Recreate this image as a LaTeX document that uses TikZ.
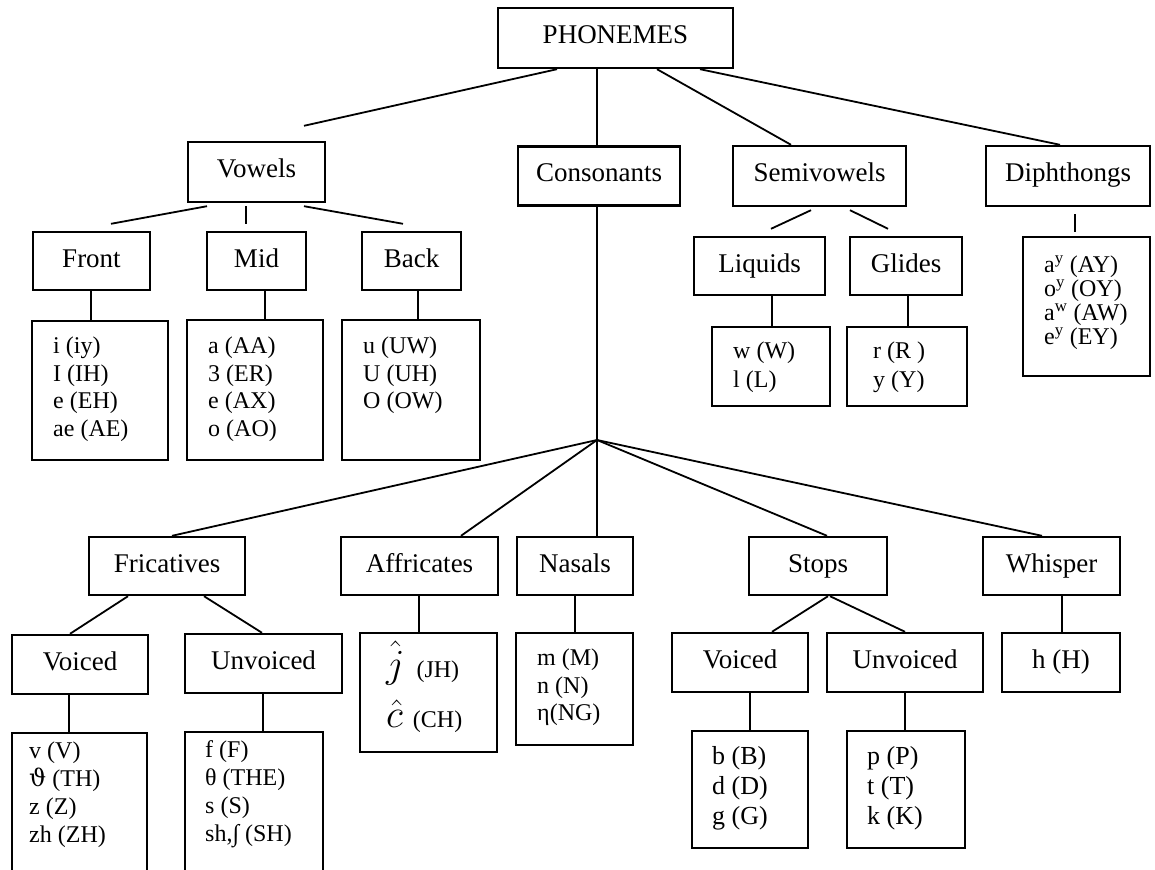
\documentclass[tikz,border=0pt]{standalone}
\usepackage{fontspec}
\setmainfont{Liberation Serif}
\newfontfamily\greekserif{DejaVu Serif}
\newcommand\leafsize[2]{\fontsize{#1}{#2}\selectfont}
\begin{document}
\begin{tikzpicture}[x=1pt,y=-1pt,
  box/.style={draw, line width=2.4pt, inner sep=0pt, text height=18pt, text depth=6pt,
              font=\leafsize{27}{30}},
  leaf/.style={draw, line width=2.4pt, inner sep=0pt},
  ltext/.style={anchor=west, inner sep=0pt, align=left, font=\leafsize{24}{27.5}},
  link/.style={line width=1.8pt}]
\useasboundingbox (0,0) rectangle (1155,869);
\fill[white] (0,0) rectangle (1155,869);
\clip (0,0) rectangle (1155,869);

% ---- top level ----
\node[box, minimum width=235pt, minimum height=60pt] (phon) at (615.5,38) {PHONEMES};

% ---- classes ----
\node[box, minimum width=137pt, minimum height=60pt] (vow)  at (256.5,172) {Vowels};
\node[box, minimum width=162pt, minimum height=59pt] (cons) at (599,176) {Consonants};
\node[box, minimum width=173pt, minimum height=60pt] (semi) at (819.5,176) {Semivowels};
\node[box, minimum width=164pt, minimum height=60pt] (diph) at (1068,176) {Diphthongs};

% ---- vowel and semivowel groups ----
\node[box, minimum width=117pt, minimum height=58pt] (front) at (91.5,261) {Front};
\node[box, minimum width=99pt,  minimum height=58pt] (mid)   at (256.5,261) {Mid};
\node[box, minimum width=99pt,  minimum height=58pt] (back)  at (411.5,261) {Back};
\node[box, minimum width=131pt, minimum height=58pt] (liq)   at (759.5,266) {Liquids};
\node[box, minimum width=112pt, minimum height=58pt] (gli)   at (906,266) {Glides};

% ---- vowel / semivowel / diphthong lists ----
\node[leaf, minimum width=136pt, minimum height=139pt] (frontl) at (100,390.5) {};
\node[leaf, minimum width=136pt, minimum height=140pt] (midl)   at (255,390) {};
\node[leaf, minimum width=138pt, minimum height=140pt] (backl)  at (411,390) {};
\node[leaf, minimum width=118pt, minimum height=79pt]  (liql)   at (771,366.5) {};
\node[leaf, minimum width=120pt, minimum height=79pt]  (glil)   at (907,366.5) {};
\node[leaf, minimum width=127pt, minimum height=139pt] (diphl)  at (1086.5,306.5) {};

\node[ltext] (frontt) at (53,389) {i (iy)\\I (IH)\\e (EH)\\ae (AE)};
\node[ltext] (midt)   at (208,389) {a (AA)\\3 (ER)\\e (AX)\\o (AO)};
\node[ltext] (backt)  at (363,375.5) {u (UW)\\U (UH)\\O (OW)};
\node[ltext, font=\leafsize{24}{29}] (liqt) at (733,367.5) {w (W)\\l (L)};
\node[ltext, font=\leafsize{24}{29}] (glit) at (873,367.5) {r (R )\\y (Y)};
\node[ltext, font=\leafsize{24}{24}] (diphtx) at (1044,303)
  {a\textsuperscript{y} (AY)\\o\textsuperscript{y} (OY)\\a\textsuperscript{w} (AW)\\e\textsuperscript{y} (EY)};

% ---- consonant branch point ----
\coordinate (hub) at (597,440);

% ---- consonant classes ----
\node[box, minimum width=156pt, minimum height=58pt] (fric)  at (167,566) {Fricatives};
\node[box, minimum width=157pt, minimum height=58pt] (affr)  at (419.5,566) {Affricates};
\node[box, minimum width=116pt, minimum height=58pt] (nas)   at (575,566) {Nasals};
\node[box, minimum width=138pt, minimum height=58pt] (stops) at (818,566) {Stops};
\node[box, minimum width=137pt, minimum height=58pt] (whis)  at (1051.5,566) {Whisper};

% ---- voicing ----
\node[box, minimum width=136pt, minimum height=59pt] (fv) at (80,664.5) {Voiced};
\node[box, minimum width=157pt, minimum height=59pt] (fu) at (263.5,663.5) {Unvoiced};
\node[box, minimum width=136pt, minimum height=59pt] (sv) at (740,662.5) {Voiced};
\node[box, minimum width=156pt, minimum height=59pt] (su) at (905,662.5) {Unvoiced};
\node[box, minimum width=118pt, minimum height=59pt] (hh) at (1061,662.5) {h (H)};

% ---- consonant lists ----
\node[leaf, minimum width=137pt, minimum height=119pt] (affrl) at (428.5,692.5) {};
\node[leaf, minimum width=117pt, minimum height=112pt] (nasl)  at (574.5,689) {};
\node[leaf, minimum width=135pt, minimum height=157pt] (fvl)   at (79.5,811.5) {};
\node[leaf, minimum width=138pt, minimum height=158pt] (ful)   at (254,811) {};
\node[leaf, minimum width=116pt, minimum height=117pt] (svl)   at (750,789.5) {};
\node[leaf, minimum width=118pt, minimum height=117pt] (suvl)  at (906,789.5) {};

\node[ltext, font=\leafsize{24}{28}] (fvt) at (29,794.5)
  {v (V)\\{\greekserif ϑ} (TH)\\z (Z)\\zh (ZH)};
\node[ltext, font=\leafsize{24}{28}] (fut) at (205,794.5)
  {f (F)\\θ (THE)\\s (S)\\sh,∫ (SH)};
\node[ltext, font=\leafsize{24}{48}] (affrt) at (386,687)
  {\scalebox{1.6}{$\hat{j}$}\hspace{12pt}(JH)\\[2pt]\scalebox{1.6}{$\hat{c}$}\hspace{10pt}(CH)};
\node[ltext] (nast) at (537,687.5) {m (M)\\n (N)\\η(NG)};
\node[ltext, font=\leafsize{26}{30}] (svt) at (712,788) {b (B)\\d (D)\\g (G)};
\node[ltext, font=\leafsize{26}{30}] (sut) at (867,788) {p (P)\\t (T)\\k (K)};

% ---- connectors ----
\draw[link] ([xshift=-58.5pt]phon.south) -- ([xshift=47.5pt,yshift=15pt]vow.north);
\draw[link] ([xshift=-18.5pt]phon.south) -- ([xshift=-2pt]cons.north);
\draw[link] ([xshift=41.5pt]phon.south)  -- ([xshift=-28.5pt]semi.north);
\draw[link] ([xshift=84.5pt]phon.south)  -- ([xshift=-8pt]diph.north);

\draw[link] ([xshift=-49.5pt,yshift=-3pt]vow.south) -- ([xshift=19.5pt,yshift=7pt]front.north);
\draw[link] ([xshift=-10.5pt,yshift=-3pt]vow.south) -- ([xshift=-10.5pt,yshift=7pt]mid.north);
\draw[link] ([xshift=47.5pt,yshift=-3pt]vow.south)  -- ([xshift=-8.5pt,yshift=7pt]back.north);
\draw[link] ([xshift=-0.5pt]front.south) -- ([xshift=-9pt]frontl.north);
\draw[link] ([xshift=8.5pt]mid.south)    -- ([xshift=10pt]midl.north);
\draw[link] ([xshift=6.5pt]back.south)   -- ([xshift=7pt]backl.north);

\draw[link] ([xshift=-8.5pt,yshift=-3pt]semi.south) -- ([xshift=11.5pt,yshift=7pt]liq.north);
\draw[link] ([xshift=30.5pt,yshift=-3pt]semi.south) -- ([xshift=-18pt,yshift=7pt]gli.north);
\draw[link] ([xshift=12.5pt]liq.south) -- ([xshift=1pt]liql.north);
\draw[link] ([xshift=2pt]gli.south)    -- ([xshift=1pt]glil.north);
\draw[link] ([xshift=7pt,yshift=-7pt]diph.south) -- ([xshift=-11.5pt,yshift=4pt]diphl.north);

\draw[link] ([xshift=-2pt]cons.south) -- (hub);
\draw[link] (hub) -- ([xshift=5pt]fric.north);
\draw[link] (hub) -- ([xshift=41.5pt]affr.north);
\draw[link] (hub) -- ([xshift=22pt]nas.north);
\draw[link] (hub) -- ([xshift=9pt]stops.north);
\draw[link] (hub) -- ([xshift=-9.5pt]whis.north);

\draw[link] ([xshift=-39pt]fric.south) -- ([xshift=-10pt]fv.north);
\draw[link] ([xshift=37pt]fric.south)  -- ([xshift=-1.5pt]fu.north);
\draw[link] ([xshift=-0.5pt]affr.south) -- ([xshift=-9.5pt]affrl.north);
\draw[link] (nas.south) -- ([xshift=0.5pt]nasl.north);
\draw[link] ([xshift=10pt]stops.south) -- ([xshift=32pt]sv.north);
\draw[link] ([xshift=12pt]stops.south) -- (su.north);
\draw[link] ([xshift=10.5pt]whis.south) -- ([xshift=1pt]hh.north);

\draw[link] ([xshift=-11pt]fv.south) -- ([xshift=-10.5pt]fvl.north);
\draw[link] ([xshift=-0.5pt]fu.south) -- ([xshift=9pt]ful.north);
\draw[link] ([xshift=10pt]sv.south) -- (svl.north);
\draw[link] (su.south) -- ([xshift=-1pt]suvl.north);
\end{tikzpicture}
\end{document}
